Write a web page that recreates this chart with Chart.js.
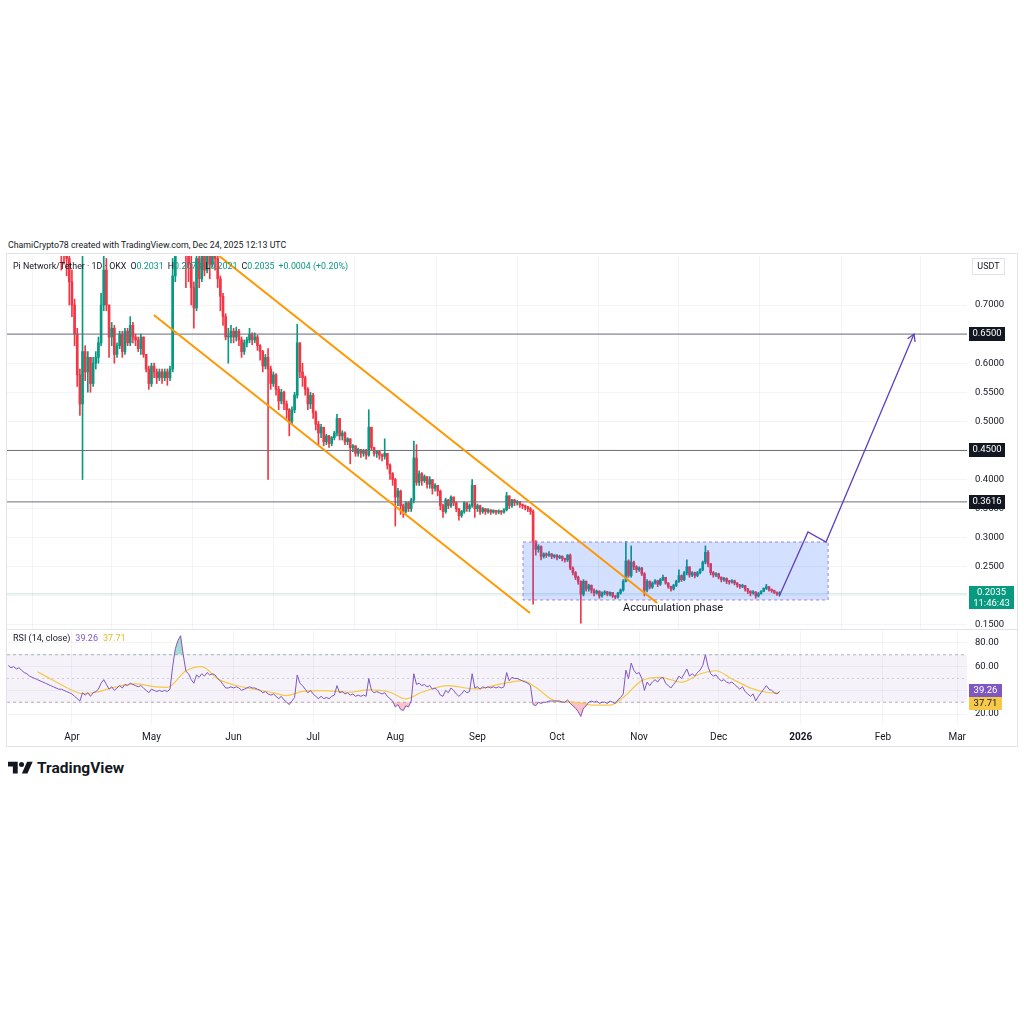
<!DOCTYPE html>
<html>
<head>
<meta charset="utf-8">
<title>PI/USDT 1D</title>
<script src="https://cdn.jsdelivr.net/npm/chart.js@4.4.1/dist/chart.umd.min.js"></script>
<style>
  body { margin: 0; background: #fff; }
  #page { position: relative; width: 1024px; height: 1024px; font-family: Roboto, "Noto Sans", sans-serif; color: #131722; }
  .abs { position: absolute; white-space: nowrap; }
  #caption { left: 8px; top: 240px; font-size: 8.8px; }
  #frame { left: 6px; top: 253px; width: 1010px; height: 492px; border: 1px solid #e0e3eb; }
  #divider { left: 7px; top: 629px; width: 1010px; height: 1px; background: #e0e3eb; }
  #priceCanvas { left: 7px; top: 255px; }
  #rsiCanvas { left: 7px; top: 631px; }
  #legend { left: 13px; top: 261px; font-size: 8.9px; }
  #legend span { margin-left: 4px; }
  #legend span:first-child { margin-left: 0; }
  #rsiLegend { left: 13px; top: 633px; font-size: 9px; }
  #rsiLegend span { margin-left: 5px; }
  .g { color: #089981; font-weight: 400; }
  .p { color: #7e57c2; }
  .yel { color: #e8b923; }
  #logo { left: 8px; top: 759px; font-size: 15.5px; font-weight: 700; display: flex; align-items: center; gap: 4px; }
</style>
</head>
<body>
<div id="page">
  <div id="caption" class="abs">ChamiCrypto78 created with TradingView.com, Dec 24, 2025 12:13 UTC</div>
  <div id="frame" class="abs"></div>
  <canvas id="priceCanvas" class="abs" width="1010" height="375"></canvas>
  <div id="divider" class="abs"></div>
  <canvas id="rsiCanvas" class="abs" width="1010" height="115"></canvas>
  <div id="legend" class="abs"><span>Pi Network/Tether · 1D · OKX</span><span>O<b class="g">0.2031</b></span><span>H<b class="g">0.2073</b></span><span>L<b class="g">0.2021</b></span><span>C<b class="g">0.2035</b></span><span class="g">+0.0004 (+0.20%)</span></div>
  <div id="rsiLegend" class="abs">RSI (14, close)<span class="p">39.26</span><span class="yel">37.71</span></div>
  <div id="logo" class="abs">
    <svg width="25" height="14" viewBox="0 0 36 20"><path d="M14 18H7V8H0V1h14v17zM28 18h-8l7.5-17h8L28 18z" fill="#131722"/><circle cx="19.5" cy="5" r="3.6" fill="#131722"/></svg>
    <span>TradingView</span>
  </div>
</div>
<script>
// day numbers: Apr 1, 2025 = 0
const firstDay = -24;
const firstOpen = 1.62;

const closes = [
  1.55,1.40,1.28,1.32,1.36,1.24,1.16,1.22,1.28,1.18,
  1.10,1.05,1.12,1.08,1.03,1.06,1.00,0.97,0.92,0.88,
  0.84,0.80,0.78,0.74,0.70,0.65,0.58,0.53,0.62,0.585,
  0.61,0.565,0.60,0.61,0.635,0.70,0.76,0.70,0.645,0.66,
  0.615,0.63,0.65,0.62,0.655,0.635,0.665,0.645,0.64,0.625,
  0.645,0.615,0.59,0.565,0.595,0.585,0.575,0.585,0.575,0.585,
  0.575,0.59,0.75,0.95,1.10,1.40,1.10,0.80,0.77,0.73,
  0.695,0.78,0.745,0.79,0.76,0.80,0.77,0.80,0.78,0.745,
  0.715,0.68,0.645,0.645,0.655,0.645,0.655,0.64,0.62,0.635,
  0.64,0.65,0.64,0.645,0.63,0.62,0.595,0.61,0.59,0.565,
  0.58,0.555,0.535,0.55,0.53,0.52,0.50,0.52,0.545,0.635,
  0.585,0.575,0.555,0.53,0.545,0.515,0.495,0.48,0.49,0.465,
  0.475,0.462,0.472,0.48,0.505,0.475,0.48,0.465,0.47,0.455,
  0.458,0.445,0.452,0.445,0.45,0.442,0.49,0.455,0.445,0.448,
  0.442,0.44,0.445,0.425,0.41,0.40,0.37,0.38,0.355,0.345,
  0.36,0.35,0.365,0.437,0.395,0.41,0.398,0.405,0.392,0.40,
  0.385,0.39,0.38,0.355,0.345,0.365,0.355,0.37,0.36,0.35,
  0.338,0.345,0.36,0.35,0.355,0.39,0.35,0.355,0.345,0.35,
  0.345,0.348,0.344,0.347,0.344,0.346,0.344,0.348,0.372,0.355,
  0.365,0.36,0.362,0.357,0.355,0.353,0.35,0.345,0.294,0.28,
  0.285,0.268,0.272,0.27,0.272,0.268,0.27,0.266,0.268,0.264,
  0.262,0.27,0.248,0.24,0.232,0.225,0.203,0.225,0.212,0.218,
  0.21,0.205,0.208,0.20,0.205,0.207,0.203,0.206,0.20,0.198,
  0.205,0.21,0.225,0.26,0.235,0.258,0.25,0.245,0.248,0.238,
  0.21,0.225,0.215,0.222,0.226,0.22,0.228,0.232,0.222,0.216,
  0.212,0.218,0.225,0.235,0.228,0.24,0.25,0.236,0.24,0.235,
  0.24,0.245,0.258,0.275,0.255,0.24,0.236,0.238,0.232,0.228,
  0.23,0.225,0.224,0.226,0.222,0.219,0.216,0.218,0.212,0.208,
  0.205,0.207,0.20,0.204,0.208,0.213,0.216,0.211,0.209,0.206,
  0.2031,0.2035
];
const highs = [
  1.70,1.58,1.45,1.42,1.45,1.40,1.28,1.30,1.35,1.30,
  1.20,1.12,1.18,1.15,1.10,1.10,1.08,1.02,0.99,0.95,
  0.90,0.86,0.82,0.80,0.76,0.71,0.66,0.59,0.80,0.63,
  0.62,0.61,0.61,0.62,0.645,0.72,0.80,0.78,0.70,0.67,
  0.665,0.635,0.655,0.655,0.66,0.66,0.68,0.67,0.65,0.645,
  0.65,0.645,0.61,0.595,0.60,0.60,0.59,0.59,0.59,0.59,
  0.59,0.595,0.78,1.00,1.20,1.67,1.45,1.12,0.84,0.80,
  0.74,0.82,0.80,0.83,0.80,0.82,0.81,0.82,0.81,0.79,
  0.75,0.72,0.685,0.66,0.665,0.66,0.662,0.658,0.645,0.64,
  0.645,0.66,0.652,0.652,0.648,0.632,0.622,0.615,0.625,0.595,
  0.585,0.582,0.56,0.555,0.552,0.535,0.522,0.525,0.55,0.667,
  0.635,0.60,0.578,0.558,0.55,0.548,0.518,0.50,0.495,0.49,
  0.478,0.476,0.474,0.483,0.512,0.505,0.484,0.482,0.472,0.47,
  0.46,0.458,0.454,0.452,0.452,0.452,0.52,0.49,0.456,0.45,
  0.45,0.444,0.47,0.445,0.427,0.412,0.402,0.385,0.382,0.358,
  0.362,0.362,0.368,0.466,0.46,0.415,0.412,0.408,0.405,0.405,
  0.40,0.393,0.39,0.382,0.358,0.368,0.366,0.372,0.37,0.362,
  0.35,0.347,0.362,0.36,0.358,0.40,0.385,0.358,0.356,0.352,
  0.35,0.35,0.348,0.348,0.347,0.348,0.347,0.35,0.378,0.37,
  0.366,0.366,0.364,0.362,0.358,0.356,0.354,0.352,0.348,0.295,
  0.288,0.286,0.274,0.274,0.276,0.273,0.271,0.271,0.27,0.269,
  0.265,0.271,0.272,0.25,0.242,0.234,0.226,0.228,0.226,0.22,
  0.219,0.212,0.21,0.209,0.207,0.209,0.208,0.207,0.206,0.201,
  0.206,0.212,0.228,0.294,0.262,0.286,0.26,0.252,0.25,0.249,
  0.24,0.228,0.226,0.224,0.228,0.227,0.23,0.236,0.232,0.223,
  0.217,0.22,0.227,0.245,0.236,0.242,0.262,0.25,0.242,0.241,
  0.242,0.247,0.26,0.286,0.278,0.256,0.242,0.24,0.239,0.233,
  0.232,0.231,0.227,0.228,0.227,0.223,0.22,0.22,0.218,0.213,
  0.209,0.209,0.207,0.206,0.209,0.214,0.22,0.216,0.212,0.21,
  0.207,0.2073
];
const lows = [
  1.40,1.30,1.20,1.22,1.25,1.18,1.08,1.10,1.18,1.10,
  1.02,0.98,1.02,1.02,0.98,0.99,0.95,0.90,0.86,0.82,
  0.76,0.77,0.75,0.70,0.68,0.63,0.56,0.51,0.40,0.57,
  0.55,0.55,0.56,0.59,0.60,0.63,0.69,0.69,0.61,0.63,
  0.60,0.61,0.625,0.61,0.615,0.63,0.63,0.635,0.63,0.62,
  0.615,0.61,0.585,0.555,0.56,0.575,0.565,0.57,0.565,0.57,
  0.562,0.57,0.585,0.74,0.92,1.08,0.95,0.73,0.74,0.70,
  0.66,0.69,0.73,0.74,0.75,0.755,0.745,0.765,0.76,0.73,
  0.69,0.665,0.64,0.60,0.635,0.635,0.638,0.63,0.61,0.615,
  0.628,0.635,0.632,0.635,0.622,0.605,0.585,0.59,0.40,0.555,
  0.56,0.545,0.52,0.53,0.52,0.505,0.475,0.495,0.515,0.54,
  0.575,0.56,0.545,0.52,0.522,0.505,0.485,0.46,0.472,0.458,
  0.46,0.455,0.458,0.468,0.475,0.468,0.468,0.46,0.46,0.427,
  0.448,0.44,0.44,0.438,0.44,0.435,0.44,0.45,0.44,0.438,
  0.435,0.432,0.435,0.418,0.40,0.39,0.32,0.355,0.34,0.335,
  0.342,0.345,0.345,0.36,0.39,0.39,0.39,0.395,0.385,0.385,
  0.375,0.38,0.372,0.348,0.335,0.342,0.35,0.352,0.355,0.345,
  0.33,0.335,0.342,0.345,0.345,0.352,0.335,0.345,0.34,0.342,
  0.34,0.342,0.34,0.342,0.34,0.341,0.34,0.342,0.346,0.35,
  0.352,0.355,0.356,0.352,0.35,0.348,0.345,0.34,0.186,0.27,
  0.275,0.262,0.265,0.266,0.268,0.264,0.265,0.262,0.264,0.26,
  0.258,0.259,0.245,0.236,0.228,0.22,0.153,0.20,0.208,0.208,
  0.205,0.20,0.203,0.196,0.198,0.202,0.20,0.20,0.197,0.195,
  0.196,0.203,0.208,0.224,0.232,0.232,0.245,0.24,0.242,0.235,
  0.20,0.207,0.212,0.213,0.22,0.216,0.218,0.226,0.22,0.213,
  0.208,0.21,0.216,0.223,0.225,0.226,0.236,0.232,0.233,0.231,
  0.233,0.238,0.243,0.255,0.25,0.236,0.232,0.233,0.229,0.224,
  0.225,0.221,0.22,0.222,0.219,0.215,0.213,0.214,0.208,0.204,
  0.20,0.203,0.196,0.198,0.203,0.207,0.211,0.208,0.206,0.204,
  0.201,0.2021
];
const rsiValues = [
  61,59,60,58,59,57,55,54,52,51,
  50,49,48,47,46,45,44,43,42,41,
  41,40,39,38,37,35,33,31,38,36,
  38,35,38,39,41,46,49,45,41,43,
  40,42,44,42,45,44,46,45,44,43,
  44,42,40,38,41,40,39,40,39,40,
  39,41,60,75,82,86,70,56,54,49,
  46,53,51,54,52,55,53,54,53,50,
  48,45,42,42,43,42,43,42,40,41,
  42,43,42,42,41,40,38,39,37,36,
  37,35,33,35,32,30,28,31,34,53,
  46,44,41,38,40,37,35,33,35,33,
  34,33,35,36,44,38,39,37,38,36,
  37,35,36,35,36,35,50,40,38,39,
  38,37,38,35,33,31,26,28,24,23,
  27,26,31,54,45,46,44,45,43,44,
  41,42,40,36,35,40,38,42,40,37,
  35,37,40,38,39,54,42,43,41,43,
  42,43,42,43,42,43,42,43,55,48,
  51,50,50,49,48,47,46,44,28,27,
  30,29,30,30,31,31,31,31,31,30,
  30,32,29,27,25,22,18,25,27,30,
  31,30,31,29,30,30,29,31,30,29,
  32,34,37,57,50,63,57,54,55,50,
  40,47,44,47,49,47,50,51,46,44,
  42,45,48,52,50,54,58,52,54,52,
  55,57,61,70,60,54,52,53,50,48,
  49,47,46,47,45,43,41,43,39,37,
  35,37,31,35,38,41,44,41,40,38,
  37,39.26
];
const rsiMaDays = [-13,-8,-1,4,9,16,24,31,36,43,49,55,65,75,81,87,95,104,112,120,126,132,142,152,162,170,175,182,190,197,203,208,215,222,230,237,243,249,257,262,267];
const rsiMaValues = [55.7,49.6,41.2,37.3,38.4,42.6,45.4,43.1,42.6,56.5,60,49.6,42.6,38.4,35.6,39.2,39.8,38.4,40.4,38.4,32.8,38.4,44,41.2,45.4,48.2,42.6,31.4,30,27.5,27.5,34,48.2,51,46.8,53.8,56.5,49.6,41.2,38.4,37.71];

const monthDays = [0, 30, 61, 91, 122, 153, 183, 214, 244, 275, 306, 334];
const monthLabels = ['Apr', 'May', 'Jun', 'Jul', 'Aug', 'Sep', 'Oct', 'Nov', 'Dec', '2026', 'Feb', 'Mar'];
const priceTicks = [0.15, 0.2, 0.25, 0.3, 0.35, 0.4, 0.45, 0.5, 0.55, 0.6, 0.65, 0.7];
const rsiTicks = [20, 40, 60, 80];
const rsiBands = [70, 50, 30];
const levelPrices = [0.65, 0.45, 0.3616];
const lastPrice = 0.2035;
const countdown = '11:46:43';
const rsiLast = 39.26, rsiMaLast = 37.71;

// drawings, as (day, price)
const channelLowerDays = [30.9, 172.8];
const channelLowerPrices = [0.6828, 0.1706];
const channelUpperDays = [30.9, 220.8];
const channelUpperPrices = [0.8733, 0.1878];
const boxDays = [170.2, 285.3];
const boxPrices = [0.193, 0.2926];
const pathDays = [266.8, 277.7, 284.5, 317.7];
const pathPrices = [0.199, 0.3098, 0.2926, 0.65];
const arrowDays = [315.3, 317.7, 318.1];
const arrowPrices = [0.6419, 0.65, 0.6366];
const noteDay = 226.8, notePrice = 0.1792;

const dayMin = -24.5, dayMax = 337.7;
const UP = '#089981', DOWN = '#f23645';
const GRID = 'rgba(42,46,57,0.05)';

Chart.defaults.font.family = 'Roboto';
Chart.defaults.color = '#131722';

const bodies = [], wicks = [], candleColors = [];
closes.forEach((c, i) => {
    const o = i === 0 ? firstOpen : closes[i - 1];
    const x = firstDay + i;
    bodies.push({ x, y: [o, c] });
    wicks.push({ x, y: [Math.min(lows[i], o, c), Math.max(highs[i], o, c)] });
    candleColors.push(c >= o ? UP : DOWN);
});

const pts = (xs, ys) => xs.map((x, i) => ({ x, y: ys[i] }));
const hline = v => [{ x: dayMin, y: v }, { x: dayMax, y: v }];

function lineSet(data, color, width, extra) {
    return Object.assign({
        type: 'line', data, borderColor: color, borderWidth: width,
        pointRadius: 0, fill: false, tension: 0, clip: 0, order: 1
    }, extra || {});
}

// no label overflow padding, so the panes keep their exact size
function noPad(s) {
    s.paddingTop = 0; s.paddingBottom = 0; s.paddingLeft = 0; s.paddingRight = 0;
}

function xAxis(showTicks) {
    return {
        type: 'linear', min: dayMin, max: dayMax, offset: false,
        afterBuildTicks: s => { s.ticks = monthDays.map(v => ({ value: v })); },
        grid: { color: GRID, drawTicks: false },
        border: { display: false },
        ticks: {
            display: showTicks, autoSkip: false, maxRotation: 0, padding: 7, color: '#131722',
            font: c => ({ size: 10, weight: c.tick && c.tick.value === 275 ? 'bold' : 'normal' }),
            callback: v => monthLabels[monthDays.indexOf(v)]
        },
        afterFit: s => { s.height = showTicks ? 22 : 0; noPad(s); }
    };
}

function yAxis(min, max, ticks, fmt) {
    return {
        position: 'right', min, max,
        afterBuildTicks: s => { s.ticks = ticks.map(v => ({ value: v })); },
        grid: { color: GRID, drawTicks: false },
        border: { display: false },
        ticks: { padding: 8, color: '#131722', font: { size: 9.5 }, callback: fmt },
        afterFit: s => { s.width = 50; noPad(s); }
    };
}

function tag(ctx, x, y, w, h, bg, fg, lines) {
    ctx.fillStyle = bg;
    ctx.fillRect(x, y, w, h);
    ctx.fillStyle = fg;
    ctx.font = '9.5px Roboto';
    ctx.textAlign = 'center';
    ctx.textBaseline = 'middle';
    lines.forEach((t, i) => ctx.fillText(t, x + w / 2, y + 7 + i * 11));
}

const priceTags = {
    id: 'priceTags',
    afterDraw(chart) {
        const { ctx, chartArea: a, scales: { x, y } } = chart;
        ctx.save();
        levelPrices.forEach(p => tag(ctx, a.right + 2, Math.round(y.getPixelForValue(p)) - 7, 36, 14, '#131722', '#fff', [p.toFixed(4)]));
        const yl = Math.round(y.getPixelForValue(lastPrice));
        tag(ctx, a.right + 2, yl - 8, 45, 23, UP, '#fff', [lastPrice.toFixed(4), countdown]);
        ctx.strokeStyle = '#e0e3eb';
        ctx.lineWidth = 1;
        ctx.strokeRect(a.right + 5.5, 3.5, 32, 16);
        ctx.fillStyle = '#131722';
        ctx.font = '9px Roboto';
        ctx.fillText('USDT', a.right + 21.5, 11.5);
        ctx.font = '11px Roboto';
        ctx.fillText('Accumulation phase', x.getPixelForValue(noteDay), y.getPixelForValue(notePrice));
        ctx.restore();
    }
};

const rsiTags = {
    id: 'rsiTags',
    afterDraw(chart) {
        const { ctx, chartArea: a, scales: { y } } = chart;
        ctx.save();
        const yp = Math.round(y.getPixelForValue(rsiLast));
        tag(ctx, a.right + 2, yp - 7, 33, 13, '#7e57c2', '#fff', [rsiLast.toFixed(2)]);
        tag(ctx, a.right + 2, yp + 6, 33, 13, '#f7c948', '#131722', [rsiMaLast.toFixed(2)]);
        ctx.restore();
    }
};

new Chart(document.getElementById('priceCanvas'), {
    type: 'bar',
    data: {
        datasets: [
            lineSet(hline(lastPrice), 'rgba(8,153,129,0.25)', 1, { order: 20 }),
            { type: 'bar', data: wicks, backgroundColor: candleColors, barThickness: 1, grouped: false, borderWidth: 0, clip: 0, order: 11 },
            { type: 'bar', data: bodies, backgroundColor: candleColors, barThickness: 2, grouped: false, borderWidth: 0, minBarLength: 1, clip: 0, order: 10 },
            ...levelPrices.map(p => lineSet(hline(p), '#6a6d78', 1, { order: 6 })),
            lineSet(pts(boxDays, [boxPrices[1], boxPrices[1]]), 'rgba(0,0,0,0)', 0, { fill: { target: { value: boxPrices[0] } }, backgroundColor: 'rgba(41,98,255,0.2)', order: 5 }),
            lineSet(pts([boxDays[0], boxDays[1], boxDays[1], boxDays[0], boxDays[0]], [boxPrices[1], boxPrices[1], boxPrices[0], boxPrices[0], boxPrices[1]]), '#9a80e0', 1, { borderDash: [3, 3], order: 4 }),
            lineSet(pts(channelLowerDays, channelLowerPrices), '#ff9800', 2, { order: 3 }),
            lineSet(pts(channelUpperDays, channelUpperPrices), '#ff9800', 2, { order: 3 }),
            lineSet(pts(pathDays, pathPrices), '#5e3fc0', 1.3, { order: 2 }),
            lineSet(pts(arrowDays, arrowPrices), '#5e3fc0', 1.3, { order: 2 })
        ]
    },
    options: {
        responsive: false, animation: false, events: [],
        layout: { padding: { top: 1, bottom: 1, left: 0, right: 0 } },
        plugins: { legend: { display: false }, tooltip: { enabled: false } },
        scales: {
            x: xAxis(false),
            y: yAxis(0.14312, 0.78422, priceTicks, v => v.toFixed(4))
        }
    },
    plugins: [priceTags]
});

const rsiPts = rsiValues.map((v, i) => ({ x: firstDay + i, y: v }));

new Chart(document.getElementById('rsiCanvas'), {
    type: 'line',
    data: {
        datasets: [
            lineSet(hline(rsiBands[0]), 'rgba(120,123,134,0.55)', 1, { borderDash: [3, 3], fill: { target: { value: rsiBands[2] } }, backgroundColor: 'rgba(126,87,194,0.08)', order: 6 }),
            lineSet(hline(rsiBands[1]), 'rgba(120,123,134,0.3)', 1, { borderDash: [2, 3], order: 6 }),
            lineSet(hline(rsiBands[2]), 'rgba(120,123,134,0.55)', 1, { borderDash: [3, 3], order: 6 }),
            lineSet(rsiPts, 'rgba(0,0,0,0)', 0, { fill: { target: { value: 70 }, above: 'rgba(8,153,129,0.35)', below: 'rgba(0,0,0,0)' }, order: 5 }),
            lineSet(rsiPts, 'rgba(0,0,0,0)', 0, { fill: { target: { value: 30 }, above: 'rgba(0,0,0,0)', below: 'rgba(242,54,69,0.3)' }, order: 5 }),
            lineSet(pts(rsiMaDays, rsiMaValues), '#f7c948', 1.2, { cubicInterpolationMode: 'monotone', order: 2 }),
            lineSet(rsiPts, '#7e57c2', 1, { order: 1 })
        ]
    },
    options: {
        responsive: false, animation: false, events: [],
        layout: { padding: 0 },
        plugins: { legend: { display: false }, tooltip: { enabled: false } },
        scales: {
            x: xAxis(true),
            y: yAxis(11.667, 90, rsiTicks, v => v.toFixed(2))
        }
    },
    plugins: [rsiTags]
});
</script>
</body>
</html>
